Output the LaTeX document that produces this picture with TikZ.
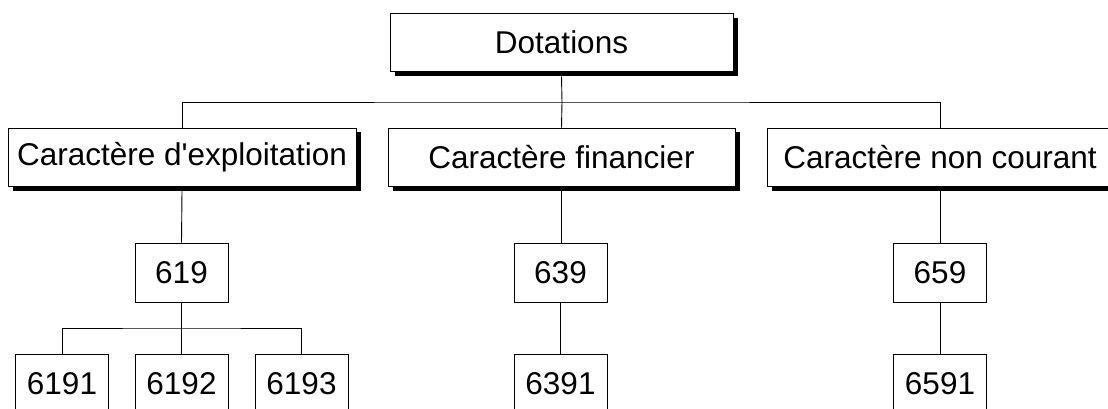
\documentclass[tikz,border=0pt]{standalone}
\usepackage{fontspec}
\newfontfamily\diafont{Liberation Sans}
\usetikzlibrary{shadows}

\begin{document}
\begin{tikzpicture}[x=1pt, y=-1pt, line width=0.9pt,
	box/.style={draw, fill=white, inner sep=0pt, minimum height=59pt,
		font=\diafont\fontsize{31.5}{38}\selectfont},
	shadowbox/.style={box, minimum height=58pt,
		drop shadow={shadow xshift=4.5pt, shadow yshift=-4.5pt, opacity=1, fill=black}},
	numbox/.style={box, minimum width=93pt}]
	\useasboundingbox (0,0) rectangle (1108,409);
	\node[shadowbox, minimum width=343pt] (dot) at (561.5, 42.5) {Dotations};
	\node[shadowbox, minimum width=348pt] (expl) at (182, 157) {Caractère d'exploitation};
	\node[shadowbox, minimum width=347pt] (fin) at (561.5, 157) {Caractère financier};
	\node[shadowbox, minimum width=346pt] (nonc) at (940, 157) {Caractère non courant};
	\node[numbox] (n619) at (181.5, 272.5) {619};
	\node[numbox] (n639) at (560.5, 272.5) {639};
	\node[numbox] (n659) at (940, 272.5) {659};
	\node[numbox] (n6191) at (62, 383.5) {6191};
	\node[numbox] (n6192) at (181.5, 383.5) {6192};
	\node[numbox] (n6193) at (301.5, 383.5) {6193};
	\node[numbox] (n6391) at (560.5, 383.5) {6391};
	\node[numbox] (n6591) at (940, 383.5) {6591};
	\coordinate (bus) at (562, 102);
	\coordinate (sub) at (181.5, 328);
	\draw (dot.south) ++(0,4.5) -- (bus);
	\draw (expl.north) |- (bus) -| (nonc.north);
	\draw (bus) -- (fin.north);
	\draw (expl.south) ++(0,4.5) -- (n619.north);
	\draw (fin.south) ++(0,4.5) -- (n639.north -| fin.south);
	\draw (nonc.south) ++(0,4.5) -- (n659.north);
	\draw (n619) -- (n6192);
	\draw (n6191.north) |- (sub) -| (n6193.north);
	\draw (n639) -- (n6391);
	\draw (n659) -- (n6591);
\end{tikzpicture}
\end{document}
